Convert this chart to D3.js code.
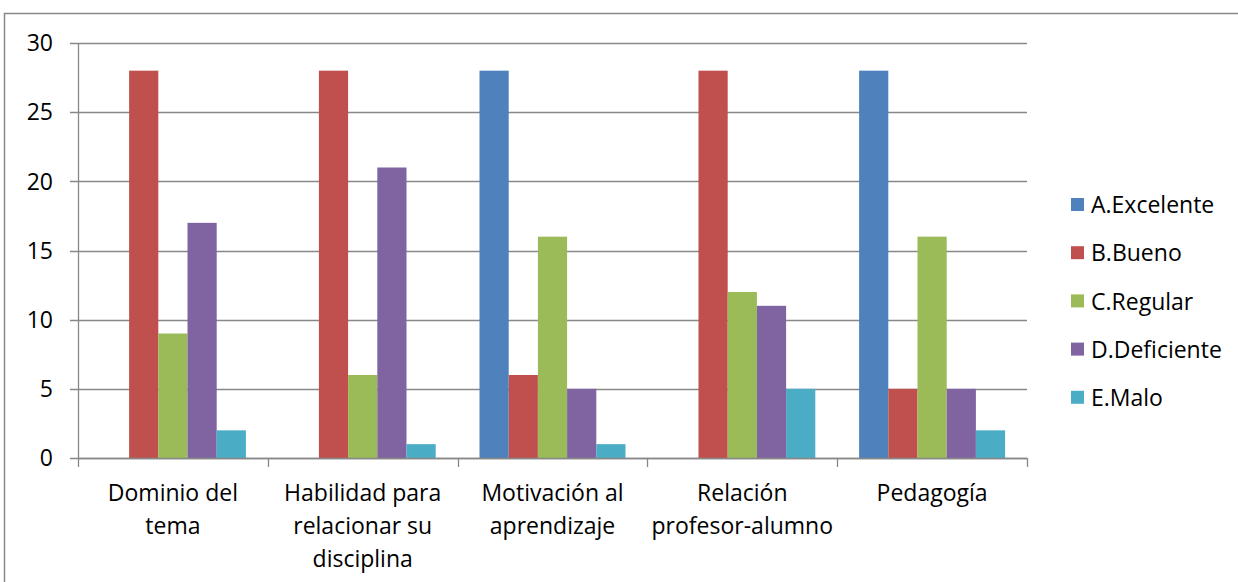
<!DOCTYPE html>
<html><head><meta charset="utf-8">
<script src="https://cdn.jsdelivr.net/npm/d3@7"></script>
<style>body{margin:0;background:#fff;} svg{display:block;} text{font-family:"Open Sans", Lato, sans-serif;}</style>
</head><body>
<svg id="c" width="1238" height="582"></svg>
<script>
const categories = [["Dominio del","tema"],["Habilidad para","relacionar su","disciplina"],["Motivación al","aprendizaje"],["Relación","profesor-alumno"],["Pedagogía"]];
const seriesNames = ["A.Excelente","B.Bueno","C.Regular","D.Deficiente","E.Malo"];
const excelente = [0,0,28,0,28];
const bueno = [28,28,6,28,5];
const regular = [9,6,16,12,16];
const deficiente = [17,21,5,11,5];
const malo = [2,1,1,5,2];
const colors = ["#4F81BD","#C0504D","#9BBB59","#8064A2","#4BACC6"];
const yTicks = [0,5,10,15,20,25,30];
const series = [excelente,bueno,regular,deficiente,malo];
const FS = 23;

const svg = d3.select("#c");
// chart border
svg.append("rect").attr("x",4.5).attr("y",13.5).attr("width",1300).attr("height",700)
  .attr("fill","none").attr("stroke","#888").attr("stroke-width",1.5);
// title fragment (cut off at top)
svg.append("text").attr("x",475).attr("y",-7).attr("font-weight","bold").attr("font-size",24).attr("fill","#000").text("p");

const x0 = d3.scaleBand().domain(d3.range(categories.length)).range([78,1027]).paddingInner(0).paddingOuter(0);
const bw = x0.bandwidth();
const x1 = d3.scaleBand().domain(d3.range(5)).range([bw*0.75/6.5, bw - bw*0.75/6.5]).padding(0);
const y = d3.scaleLinear().domain([0,30]).range([458,43]);

// gridlines
svg.append("g").selectAll("line").data(yTicks).join("line")
  .attr("x1",70).attr("x2",1027).attr("y1",d=>Math.round(y(d))+0.5).attr("y2",d=>Math.round(y(d))+0.5)
  .attr("stroke","#888").attr("stroke-width",1.3);
// y labels
svg.append("g").selectAll("text").data(yTicks).join("text")
  .attr("x",53).attr("y",d=>y(d)).attr("dy","0.36em").attr("text-anchor","end")
  .attr("font-size",FS).attr("fill","#000").text(d=>d);

// bars
const g = svg.append("g");
series.forEach((s,si)=>{
  g.selectAll(null).data(s).join("rect")
    .attr("x",(d,i)=>x0(i)+x1(si)).attr("width",x1.bandwidth())
    .attr("y",d=>y(d)).attr("height",d=>y(0)-y(d))
    .attr("fill",colors[si]);
});

// y axis line
svg.append("line").attr("x1",78.5).attr("x2",78.5).attr("y1",43).attr("y2",458).attr("stroke","#888").attr("stroke-width",1.3);
// x axis line + ticks
svg.append("line").attr("x1",78).attr("x2",1027).attr("y1",458.5).attr("y2",458.5).attr("stroke","#888").attr("stroke-width",1.5);
const bounds = d3.range(categories.length+1).map(i=> i<categories.length ? x0(i) : x0(i-1)+bw);
svg.append("g").selectAll("line").data(bounds).join("line")
  .attr("x1",d=>Math.round(d)+0.5).attr("x2",d=>Math.round(d)+0.5).attr("y1",458).attr("y2",467)
  .attr("stroke","#888").attr("stroke-width",1.3);

// x labels
const xl = svg.append("g").selectAll("text").data(categories).join("text")
  .attr("text-anchor","middle").attr("font-size",FS).attr("fill","#000");
xl.each(function(lines,i){
  const t = d3.select(this);
  lines.forEach((l,k)=>{
    t.append("tspan").attr("x",x0(i)+bw/2).attr("y",501+k*33).text(l);
  });
});

// legend
const lg = svg.append("g");
seriesNames.forEach((n,i)=>{
  const cy = 205 + i*48.2;
  lg.append("rect").attr("x",1071).attr("y",cy-7).attr("width",13).attr("height",13).attr("fill",colors[i]);
  lg.append("text").attr("x",1091).attr("y",cy).attr("dy","0.36em").attr("font-size",FS).attr("fill","#000").text(n);
});
</script>
</body></html>
